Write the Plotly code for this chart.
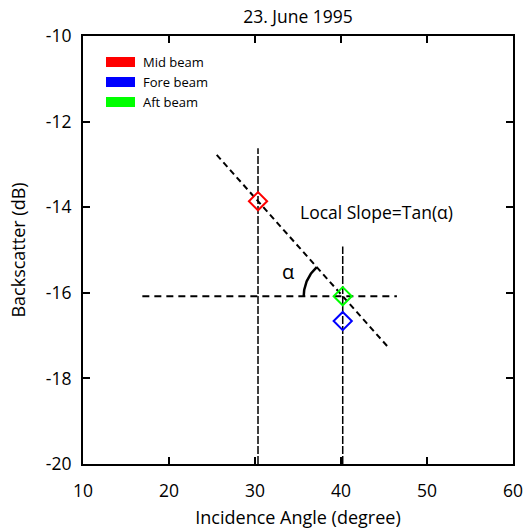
import numpy as np
import plotly.graph_objects as go

# ---- data ----
beam_names = ["Mid beam", "Fore beam", "Aft beam"]
beam_colors = ["#ff0000", "#0000ff", "#00ff00"]
beam_angle = [30.35, 40.2, 40.2]          # incidence angle (deg)
beam_sigma = [-13.86, -16.66, -16.08]     # backscatter (dB)

vline_x = [30.35, 40.2]
vline_top = [-12.62, -14.92]
hline_y = -16.08
hline_x = [16.9, 46.5]
slope_x = [25.55, 45.5]

x_range = [10, 60]
y_range = [-20, -10]
x_ticks = [10, 20, 30, 40, 50, 60]
y_ticks = [-20, -18, -16, -14, -12, -10]
y_ticktext = ["-20", "-18", "-16", "-14", "-12", "-10"]

FONT = "Open Sans"
W, H = 523, 530
M = dict(l=83, r=10, t=36, b=66)

fig = go.Figure()

# slope line through mid and aft points
m = (beam_sigma[2] - beam_sigma[0]) / (beam_angle[2] - beam_angle[0])
sy = [beam_sigma[0] + m * (x - beam_angle[0]) for x in slope_x]
fig.add_trace(go.Scatter(x=slope_x, y=sy, mode="lines", showlegend=False,
                         line=dict(color="black", width=2, dash="6px,4px"), hoverinfo="skip"))
# vertical lines
for vx, vt in zip(vline_x, vline_top):
    fig.add_trace(go.Scatter(x=[vx, vx], y=[y_range[0], vt], mode="lines", showlegend=False,
                             line=dict(color="black", width=1.5, dash="8px,2px"), hoverinfo="skip"))
# horizontal line
fig.add_trace(go.Scatter(x=hline_x, y=[hline_y, hline_y], mode="lines", showlegend=False,
                         line=dict(color="black", width=2, dash="7px,5px"), hoverinfo="skip"))

# angle arc (computed in pixel space, converted to data)
pw = W - M["l"] - M["r"]
ph = H - M["t"] - M["b"]
sx = pw / (x_range[1] - x_range[0])
syp = ph / (y_range[1] - y_range[0])
theta = np.radians(np.linspace(180 - np.degrees(np.arctan(abs(m) * syp / sx)), 180, 30))
r_px = 39
ax_ = beam_angle[2] + r_px * np.cos(theta) / sx
ay_ = hline_y + r_px * np.sin(theta) / syp
fig.add_trace(go.Scatter(x=ax_, y=ay_, mode="lines", showlegend=False,
                         line=dict(color="black", width=2.5), hoverinfo="skip"))

# markers
for n, c, x, y in zip(beam_names, beam_colors, beam_angle, beam_sigma):
    fig.add_trace(go.Scatter(x=[x], y=[y], mode="markers", showlegend=False,
                             marker=dict(symbol="diamond-open", size=14, color=c,
                                         line=dict(width=2, color=c)), name=n))

# legend (drawn in paper coordinates)
leg_x0, leg_x1 = (106 - M["l"]) / pw, (135 - M["l"]) / pw
leg_text_x = (141 - M["l"]) / pw
leg_rows = [62, 82, 102]
for n, c, py in zip(beam_names, beam_colors, leg_rows):
    yc = 1 - (py - M["t"]) / ph
    hh = 5 / ph
    fig.add_shape(type="rect", xref="paper", yref="paper", x0=leg_x0, x1=leg_x1,
                  y0=yc - hh, y1=yc + hh, fillcolor=c, line=dict(width=0))
    fig.add_annotation(xref="paper", yref="paper", x=leg_text_x, y=yc, text=n,
                       showarrow=False, xanchor="left", yanchor="middle",
                       font=dict(family=FONT, size=13, color="black"))

fig.add_annotation(x=44.1, y=-14.11, text="Local Slope=Tan(α)", showarrow=False,
                   font=dict(family=FONT, size=17.5, color="black"))
fig.add_annotation(x=33.8, y=-15.51, text="α", showarrow=False,
                   font=dict(family=FONT, size=20, color="black"))

axis_common = dict(showline=True, linewidth=2, linecolor="black", mirror="ticks",
                   ticks="inside", ticklen=7, tickwidth=2, tickcolor="black",
                   showgrid=False, zeroline=False, automargin=False,
                   ticklabeloverflow="allow",
                   tickfont=dict(family=FONT, size=17.5, color="black"))
fig.update_xaxes(range=x_range, tickvals=x_ticks, ticklabelstandoff=10, **axis_common,
                 title=dict(text="Incidence Angle (degree)", standoff=10,
                            font=dict(family=FONT, size=18, color="black")))
fig.update_yaxes(range=y_range, tickvals=y_ticks, ticktext=y_ticktext, ticklabelstandoff=6,
                 **axis_common,
                 title=dict(text="Backscatter (dB)", standoff=16,
                            font=dict(family=FONT, size=18, color="black")))

fig.update_layout(
    width=W, height=H, margin=M,
    plot_bgcolor="white", paper_bgcolor="white",
    title=dict(text="23. June 1995", x=0.5, xref="paper", y=1 - 17 / H, yanchor="middle",
               font=dict(family=FONT, size=17.5, color="black")),
    showlegend=False,
)

fig.write_html("out.html")
